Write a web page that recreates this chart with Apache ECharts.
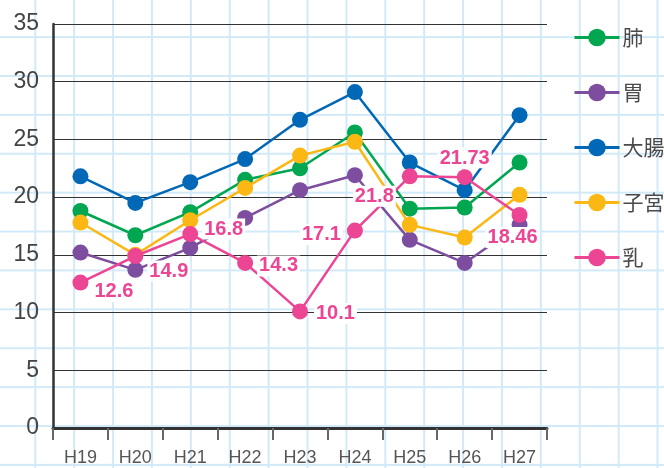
<!DOCTYPE html>
<html>
<head>
<meta charset="utf-8">
<script src="https://cdn.jsdelivr.net/npm/echarts@6/dist/echarts.min.js"></script>
<style>
html,body{margin:0;padding:0;background:#fff;}
#chart{width:664px;height:468px;background-color:#fff;
background-image:linear-gradient(to right,#d2eaf8 0,#d2eaf8 2px,transparent 2px),linear-gradient(to bottom,#d2eaf8 0,#d2eaf8 2px,transparent 2px);
background-size:38.9px 38.9px;background-position:-4.6px -2.8px;}
</style>
</head>
<body>
<div id="chart"></div>
<script>
var categories = ['H19','H20','H21','H22','H23','H24','H25','H26','H27'];
var seriesNames = ['肺','胃','大腸','子宮','乳'];
var lung = [18.8, 16.7, 18.7, 21.5, 22.5, 25.6, 19.0, 19.1, 23.0];
var stomach = [15.2, 13.7, 15.6, 18.2, 20.6, 21.9, 16.3, 14.3, 17.6];
var colon = [21.8, 19.5, 21.3, 23.3, 26.7, 29.1, 23.0, 20.6, 27.1];
var uterus = [17.8, 15.0, 18.0, 20.8, 23.6, 24.8, 17.6, 16.5, 20.2];
var breast = [12.6, 14.9, 16.8, 14.3, 10.1, 17.1, 21.8, 21.73, 18.46];
var yTicks = [0, 5, 10, 15, 20, 25, 30, 35];

var colors = ['#00a650', '#7d4e9f', '#0068b6', '#fbb814', '#ec4593'];
// label placement for the breast-cancer series (position, offset)
var breastLabelPlace = [
  ['right', [0, 9]], ['right', [0, 15]], ['right', [0, -5]], ['right', [0, 3]],
  ['right', [2, 2]], ['left', [0, 4]], ['left', [-2, 20]], ['top', [0, 3]], ['bottom', [-7, 0]]
];

var allData = [lung, stomach, colon, uterus, breast];
var series = allData.map(function (d, i) {
  var s = {
    name: seriesNames[i], type: 'line', data: d,
    symbol: 'circle', symbolSize: 16,
    lineStyle: { width: 2.5, color: colors[i] },
    itemStyle: { color: colors[i] },
    z: 2 + i
  };
  if (i === 4) {
    s.data = d.map(function (v, k) {
      return {
        value: v,
        label: { show: true, position: breastLabelPlace[k][0], offset: breastLabelPlace[k][1] }
      };
    });
    s.label = {
      show: true, color: '#ec4593', fontSize: 20, fontWeight: 'bold',
      fontFamily: 'Liberation Sans, Arial, sans-serif',
      backgroundColor: '#fff', padding: [1, 2, 0, 2], distance: 4,
      formatter: function (p) { return String(p.value); }
    };
  }
  return s;
});

var chart = echarts.init(document.getElementById('chart'), null, { renderer: 'canvas' });
chart.setOption({
  backgroundColor: 'transparent',
  animation: false,
  color: colors,
  grid: { left: 53, right: 117, top: 24, bottom: 40, containLabel: false },
  legend: {
    orient: 'vertical', left: 568, top: 22,
    itemWidth: 45, itemHeight: 22, itemGap: 34,
    lineStyle: { width: 3 },
    textStyle: { fontSize: 21, color: '#4a4a4a', fontFamily: 'Noto Sans CJK JP, sans-serif', padding: [0, 0, 0, -2] },
    data: seriesNames
  },
  xAxis: {
    type: 'category', data: categories, boundaryGap: true,
    axisLine: { lineStyle: { color: '#333', width: 3 } },
    axisTick: { show: true, length: 12, lineStyle: { color: '#666', width: 2 } },
    axisLabel: { fontSize: 18, color: '#555', margin: 21, fontFamily: 'Liberation Sans, Arial, sans-serif' },
    splitLine: { show: false }
  },
  yAxis: {
    type: 'value', min: yTicks[0], max: yTicks[yTicks.length - 1], interval: 5,
    axisLine: { show: true, lineStyle: { color: '#333', width: 2.5 } },
    axisTick: { show: false },
    axisLabel: { fontSize: 23, color: '#444', margin: 14, fontFamily: 'Liberation Sans, Arial, sans-serif' },
    splitLine: { show: true, lineStyle: { color: '#333', width: 1 } }
  },
  series: series
});
</script>
</body>
</html>
